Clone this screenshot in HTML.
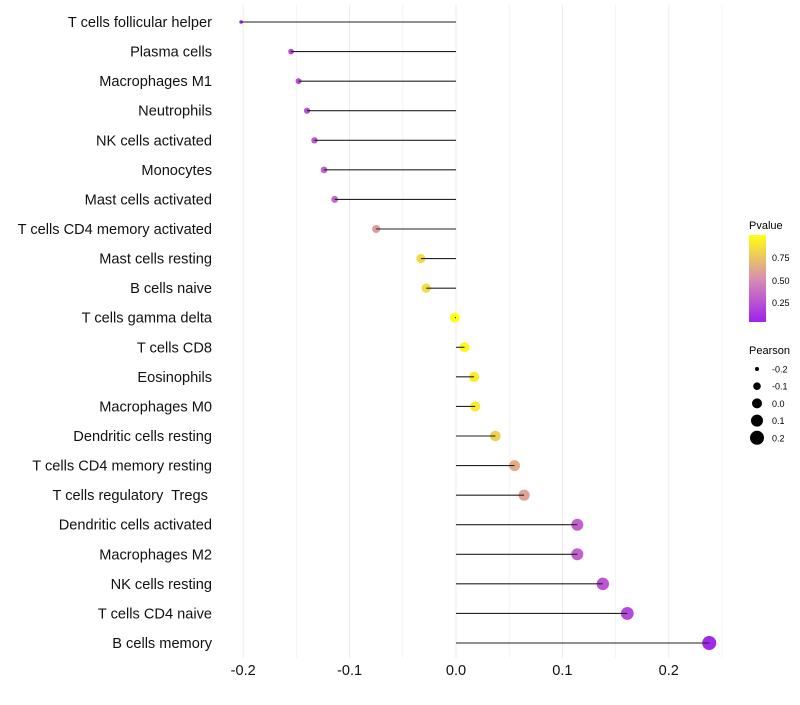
<!DOCTYPE html>
<html><head><meta charset="utf-8"><style>
body{margin:0;background:#fff;font-family:"Liberation Sans",sans-serif}
text{white-space:pre}
</style></head><body>
<svg id="c" width="800" height="700" xmlns="http://www.w3.org/2000/svg" font-family="Liberation Sans, sans-serif">
<defs><linearGradient id="pg" x1="0" y1="1" x2="0" y2="0">
<stop offset="0" stop-color="#a020f0"/><stop offset="0.5" stop-color="#d98fb0"/><stop offset="1" stop-color="#ffff10"/></linearGradient></defs>
<g id="grid"></g>
<g id="marks"></g>
<g id="ylab"></g>
<g id="xlab"></g>
<g>
<text x="749" y="229" font-size="11">Pvalue</text>
<rect x="749" y="235" width="17" height="87" fill="url(#pg)"/>
<text x="772" y="261" font-size="9">0.75</text>
<text x="772" y="284" font-size="9">0.50</text>
<text x="772" y="306" font-size="9">0.25</text>
</g>
<g id="sleg">
<text x="749" y="354" font-size="11">Pearson</text>
</g>
</svg>
<script>
const categories=["T cells follicular helper","Plasma cells","Macrophages M1","Neutrophils","NK cells activated","Monocytes","Mast cells activated","T cells CD4 memory activated","Mast cells resting","B cells naive","T cells gamma delta","T cells CD8","Eosinophils","Macrophages M0","Dendritic cells resting","T cells CD4 memory resting","T cells regulatory  Tregs ","Dendritic cells activated","Macrophages M2","NK cells resting","T cells CD4 naive","B cells memory"];
const pearson=[-0.202,-0.155,-0.148,-0.140,-0.133,-0.124,-0.114,-0.075,-0.033,-0.028,-0.001,0.008,0.017,0.018,0.037,0.055,0.064,0.114,0.114,0.138,0.161,0.238];
const pvalue=[0.03,0.2,0.22,0.24,0.27,0.3,0.33,0.55,0.82,0.83,0.99,0.95,0.9,0.9,0.78,0.62,0.58,0.3,0.3,0.25,0.2,0.05];
const xTicks=[-0.2,-0.1,0,0.1,0.2];
const xTickLabels=["-0.2","-0.1","0.0","0.1","0.2"];
const sizeLegend=[-0.2,-0.1,0.0,0.1,0.2];
const NS="http://www.w3.org/2000/svg";
function X(v){return 456+v*1064;}
function Y(i){return 22+i*(643-22)/21;}
function R(v){return Math.sqrt(Math.max(2,3.2+104*(v+0.202)));}
function lerp(a,b,t){return a.map((x,k)=>Math.round(x+(b[k]-x)*t));}
function col(p){const t=Math.min(1,Math.max(0,(p-0.02)/0.96));const A=[160,32,240],M=[217,143,176],B=[255,255,16];
const c=t<0.5?lerp(A,M,t*2):lerp(M,B,(t-0.5)*2);return `rgb(${c})`;}
function mk(tag,at,parent){const e=document.createElementNS(NS,tag);for(const k in at)e.setAttribute(k,at[k]);parent.appendChild(e);return e;}
const grid=document.getElementById('grid'),marks=document.getElementById('marks'),ylab=document.getElementById('ylab'),xlab=document.getElementById('xlab');
for(let v=-0.2;v<=0.2501;v+=0.05){const g=mk('line',{x1:X(v),x2:X(v),y1:5,y2:658,stroke:Math.abs(Math.round(v*20))%2?'#f3f3f3':'#ebebeb','stroke-width':1},grid);

}
categories.forEach((c,i)=>{
const pt=mk('circle',{cx:X(pearson[i]),cy:Y(i),r:R(pearson[i]),fill:col(pvalue[i])},marks);


const ln=mk('line',{x1:X(0),x2:X(pearson[i]),y1:Y(i),y2:Y(i),stroke:'#222','stroke-width':1.1},marks);


const t=mk('text',{x:212,y:Y(i)+5,'text-anchor':'end','font-size':14.6,fill:'#111'},ylab);t.textContent=c;


});
xTicks.forEach((v,i)=>{const t=mk('text',{x:X(v),y:675,'text-anchor':'middle','font-size':14.6,fill:'#111'},xlab);t.textContent=xTickLabels[i];

});
const sl=document.getElementById('sleg');
const legR=[2,3.8,5,6,7];
sizeLegend.forEach((v,i)=>{const y=369+i*17.2;
const c=mk('circle',{cx:757,cy:y,r:legR[i],fill:'#000'},sl);


const t=mk('text',{x:772,y:y+3.5,'font-size':9},sl);t.textContent=v.toFixed(1);

});
</script>
</body></html>
